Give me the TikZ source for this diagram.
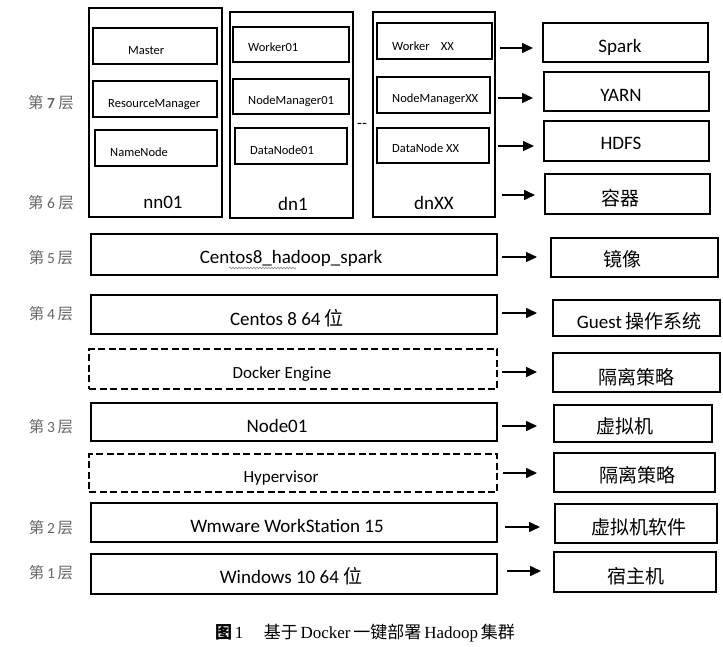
\documentclass[tikz,border=0pt]{standalone}
\usepackage{fontspec}
\setmainfont{Carlito}
\newfontfamily\cjk{Noto Sans CJK SC}
\newfontfamily\capserif{Liberation Serif}
\usetikzlibrary{fit,arrows.meta,decorations.pathmorphing}
\tikzset{
  box/.style={draw, line width=1.3pt, inner sep=0pt},
  dbox/.style={draw, line width=1.1pt, dash pattern=on 7pt off 3.5pt, inner sep=0pt},
  small/.style={font=\fontsize{12.5}{13}\selectfont, anchor=base west, inner sep=0pt},
  big/.style={font=\fontsize{19}{20}\selectfont, anchor=base, inner sep=0pt},
  mid/.style={font=\fontsize{17}{18}\selectfont, anchor=base, inner sep=0pt},
  zh/.style={font=\fontsize{19}{20}\selectfont\cjk, anchor=center, inner sep=0pt},
  lay/.style={font=\fontsize{15.5}{16}\selectfont, text=black!60, anchor=center, inner sep=0pt},
  arr/.style={line width=1.6pt, -{Triangle[length=11pt,width=10pt]}},
  arrthin/.style={line width=1.1pt, -{Triangle[length=11pt,width=10pt]}},
}
\begin{document}
\begin{tikzpicture}[x=1pt,y=-1pt]
\useasboundingbox (0,0) rectangle (723,647);
% column boxes
\node[box, fit={(89,8)(222,217)}] (nn) {};
\node[box, fit={(93,28)(217,64)}] (master) {};
\node[box, fit={(93,81)(217,117)}] (rm) {};
\node[box, fit={(95,130)(217,166)}] (namen) {};
\node[box, fit={(230,12)(353,218)}] (dn) {};
\node[box, fit={(233,27)(349,62)}] (w01) {};
\node[box, fit={(233,79)(349,114)}] (nm01) {};
\node[box, fit={(235,128)(347,164)}] (dn01) {};
\node[box, fit={(373,12)(495,217)}] (dnx) {};
\node[box, fit={(377,23)(492,59)}] (wxx) {};
\node[box, fit={(377,77)(490,113)}] (nmxx) {};
\node[box, fit={(377,128)(489,163)}] (dnxx) {};
% texts in columns
\node[small] (tmaster) at (128,55) {Master};
\node[small] (trm) at (108,108) {ResourceManager};
\node[small] (tnn) at (110,157) {NameNode};
\node[small] (tw01) at (248,52) {Worker01};
\node[small] (tnm01) at (248,105) {NodeManager01};
\node[small] (tdn01) at (250,155) {DataNode01};
\node[small] (twxx) at (392,51) {Worker\ \ \ \ XX};
\node[small] (tnmxx) at (392,103) {NodeManagerXX};
\node[small] (tdnxx) at (392,153) {DataNode XX};
\node[big] (tnn01) at (163,209) {nn01};
\node[big] (tdn1) at (293,211) {dn1};
\node[big] (tdnx) at (434,210) {dnXX};
\node[font=\fontsize{16}{17}\selectfont, inner sep=0pt] (dots) at (362,126) {-{}-};
% right boxes top
\node[box, fit={(543,23)(708,62)}] (spark) {};
\node[box, fit={(544,72)(709,111)}] (yarn) {};
\node[box, fit={(544,121)(709,161)}] (hdfs) {};
\node[box, fit={(545,174)(710,214)}] (cont) {};
\node[big] (tspark) at (620,53) {Spark};
\node[big] (tyarn) at (621,102) {YARN};
\node[big] (thdfs) at (621,150) {HDFS};
\node[zh] (tcont) at (620,198) {容器};
\coordinate (s1) at (500,48); \coordinate (e1) at (533,48);
\coordinate (s2) at (498,98); \coordinate (e2) at (533,98);
\coordinate (s3) at (498,146); \coordinate (e3) at (534,146);
\coordinate (s4) at (502,195); \coordinate (e4) at (535,195);
\draw[arr] (s1) -- (e1);
\draw[arr] (s2) -- (e2);
\draw[arrthin] (s3) -- (e3);
\draw[arr] (s4) -- (e4);
% layer boxes
\node[box, fit={(91,234)(497,275)}] (c5) {};
\node[box, fit={(551,238)(718,277)}] (r5) {};
\node[box, fit={(91,295)(497,334)}] (c4) {};
\node[box, fit={(553,300)(720,336)}] (r4) {};
\node[dbox, fit={(89,349)(497,389)}] (c35) {};
\node[box, fit={(553,353)(720,392)}] (r35) {};
\node[box, fit={(91,403)(497,441)}] (c3) {};
\node[box, fit={(554,405)(712,442)}] (r3) {};
\node[dbox, fit={(89,454)(497,492)}] (c25) {};
\node[box, fit={(554,453)(715,492)}] (r25) {};
\node[box, fit={(91,503)(497,542)}] (c2) {};
\node[box, fit={(555,504)(717,543)}] (r2) {};
\node[box, fit={(91,554)(497,594)}] (c1) {};
\node[box, fit={(554,552)(716,592)}] (r1) {};
% texts layers
\node[big] (tc5) at (291,264) {Centos8\_hadoop\_spark};
\draw[black!45, line width=0.6pt, decorate, decoration={snake, amplitude=0.9pt, segment length=3pt}] (229,268) -- (296,268);
\node[big] (tc4) at (287,325) {Centos 8 64 {\cjk 位}};
\node[mid] (tc35) at (282,378) {Docker Engine};
\node[big] (tc3) at (277,432) {Node01};
\node[mid] (tc25) at (281,482) {Hypervisor};
\node[big] (tc2) at (287,532) {Wmware WorkStation 15};
\node[big] (tc1) at (291,583) {Windows 10 64 {\cjk 位}};
\node[zh] (tr5) at (622,259) {镜像};
\node[font=\fontsize{19}{20}\selectfont, anchor=center, inner sep=0pt] (tr4) at (639,321) {Guest\,{\cjk 操作系统}};
\node[zh] (tr35) at (636,377) {隔离策略};
\node[zh] (tr3) at (625,426) {虚拟机};
\node[zh] (tr25) at (637,475) {隔离策略};
\node[zh] (tr2) at (639,527) {虚拟机软件};
\node[zh] (tr1) at (636,576) {宿主机};
\coordinate (s5) at (502,257); \coordinate (e5) at (537,257);
\coordinate (s6) at (502,313); \coordinate (e6) at (537,313);
\coordinate (s7) at (502,372); \coordinate (e7) at (537,372);
\coordinate (s8) at (502,426); \coordinate (e8) at (537,426);
\coordinate (s9) at (503,473); \coordinate (e9) at (537,473);
\coordinate (s10) at (505,527); \coordinate (e10) at (540,527);
\coordinate (s11) at (507,571); \coordinate (e11) at (541,571);
\draw[arrthin] (s5) -- (e5);
\draw[arr] (s6) -- (e6);
\draw[arr] (s7) -- (e7);
\draw[arr] (s8) -- (e8);
\draw[arr] (s9) -- (e9);
\draw[arr] (s10) -- (e10);
\draw[arr] (s11) -- (e11);
% layer labels
\node[lay] (l7) at (51,103) {{\cjk 第} \textbf{7} {\cjk 层}};
\node[lay] (l6) at (51,203) {{\cjk 第} 6 {\cjk 层}};
\node[lay] (l5) at (51,258) {{\cjk 第}\,5\,{\cjk 层}};
\node[lay] (l4) at (51,314) {{\cjk 第}\,4\,{\cjk 层}};
\node[lay] (l3) at (51,427) {{\cjk 第}\,3\,{\cjk 层}};
\node[lay] (l2) at (51,528) {{\cjk 第}\,2\,{\cjk 层}};
\node[lay] (l1) at (51,573) {{\cjk 第}\,1\,{\cjk 层}};
% caption
\node[font=\fontsize{17}{18}\selectfont, anchor=center, inner sep=0pt] (cap) at (365,633)
  {{\cjk\bfseries 图}\,{\capserif 1}\hspace{1.2em}{\cjk 基于}\,{\capserif Docker}\,{\cjk 一键部署}\,{\capserif Hadoop}\,{\cjk 集群}};
\end{tikzpicture}
\end{document}
